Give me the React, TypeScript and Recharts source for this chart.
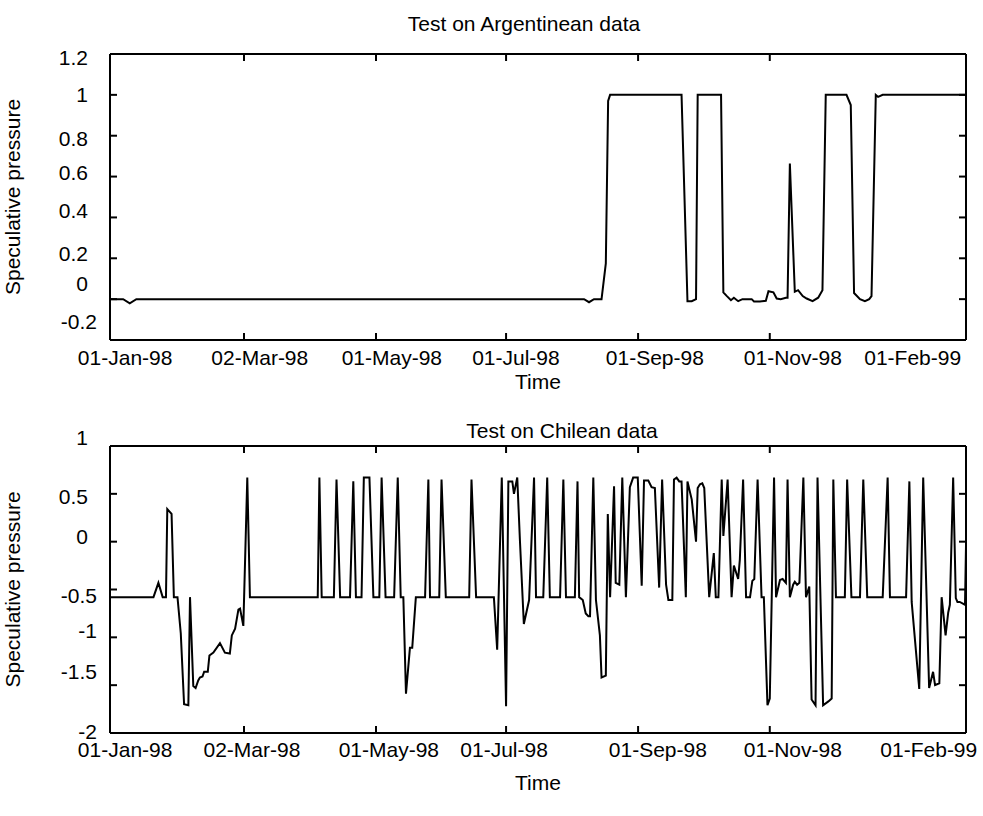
import React from 'react';
import { LineChart, Line, XAxis, YAxis } from 'recharts';

const FONT = '"Liberation Sans", Arial, Helvetica, sans-serif';

// ---- shared x axis (trading-day index) ----
const dayDomain = [0, 260];
const markDays = [0, 40.7, 80.8, 120.3, 160.4, 200.4];
const dateLabels = ['01-Jan-98', '02-Mar-98', '01-May-98', '01-Jul-98', '01-Sep-98', '01-Nov-98', '01-Feb-99'];
const argLabelDays = [4.6, 45.5, 85.6, 123.3, 165.5, 207.4, 243.8];
const chiLabelDays = [4.6, 43.1, 84.7, 119.7, 166.4, 207.4, 248.7];

// ---- Argentinean panel ----
const argDays = [
  0, 4, 6, 8, 144, 145.5, 147, 149.3, 150.6, 151.3, 151.9,
  173.6, 175.4, 176.7, 178.0, 178.5, 185.6, 186.3, 187.3, 188.6, 189.5, 190.8, 192.1,
  194.9, 195.6, 197.4, 199.2, 200.0, 201.5, 202.5, 203.7,
  205.3, 205.8, 206.5, 208.0, 209.0, 210.4, 211.6, 213.4, 215.1, 216.4, 217.4,
  223.7, 225.0, 226.0, 227.8, 229.3, 230.6, 231.3, 232.6, 233.3, 234.7, 260,
];
const argValues = [
  0, 0, -0.02, 0, 0, -0.015, 0, 0, 0.175, 0.97, 1,
  1, -0.01, -0.01, 0, 1, 1, 0.033, 0.016, -0.005, 0.007, -0.01, 0,
  0, -0.011, -0.011, -0.008, 0.039, 0.033, 0.003, 0,
  0.007, 0.007, 0.664, 0.036, 0.044, 0.015, 0.003, -0.01, 0.007, 0.044, 1,
  1, 0.95, 0.03, 0, -0.01, 0, 0.015, 1, 0.99, 1, 1,
];
const argDomain = [-0.2, 1.2];
const argTicks = [-0.2, 0, 0.2, 0.4, 0.6, 0.8, 1, 1.2];
const argTickText = ['-0.2', '0', '0.2', '0.4', '0.6', '0.8', '1', '1.2'];
const argTickLabelAt = [-0.112, 0.074, 0.221, 0.436, 0.622, 0.784, 1.0, 1.185];

// ---- Chilean panel ----
const chiDays = [
  0, 13.2, 14.7, 16.0, 17.0, 17.4, 18.7, 19.4, 20.5, 21.5, 22.5, 23.8, 24.3, 25.3, 26.0, 26.8,
  27.3, 28.1, 28.6, 29.7, 30.2, 31.4, 33.4, 34.9, 36.4, 37.0, 38.0, 39.0, 39.5, 40.5, 41.7, 42.5,
  63.1, 63.6, 64.3, 68.0, 68.8, 69.9, 72.9, 73.9, 74.7, 76.4, 77.1, 78.8, 80.0, 81.8, 82.5, 83.7,
  86.3, 87.4, 88.3, 89.1, 89.9, 91.1, 91.8, 92.9, 95.7, 96.7, 97.2, 100.0, 100.7, 102.0,
  109.1, 109.8, 111.2, 116.6, 117.6, 119.0, 120.3, 121.0, 122.2, 122.7, 123.7, 124.5, 125.7, 127.3,
  128.8, 129.4, 131.6, 132.8, 133.6, 136.7, 137.7, 138.5, 141.2, 142.0, 142.5, 143.6, 144.5, 145.3,
  145.8, 146.8, 147.6, 148.8, 149.3, 150.6, 151.2, 151.9, 153.1, 153.6, 154.7, 155.6, 156.7, 157.9,
  158.9, 160.3, 161.5, 162.2, 163.5, 164.5, 165.5, 166.8, 167.7, 168.9, 169.6, 170.8, 171.3, 172.1,
  172.9, 173.6, 174.9, 175.4, 176.7, 178.0, 178.5, 179.2, 179.9, 180.5, 182.0, 183.4, 184.0, 184.8,
  185.8, 186.3, 187.6, 188.8, 189.5, 190.8, 191.3, 192.3, 193.2, 194.4, 195.1, 195.7, 196.7, 197.9,
  198.6, 199.7, 200.4, 201.7, 202.3, 203.5, 204.3, 205.3, 205.8, 206.5, 207.5, 208.0, 208.7, 209.4,
  210.6, 211.4, 212.4, 213.1, 214.3, 214.9, 216.6, 218.2, 219.2, 219.7, 220.5, 223.2, 223.9, 225.2,
  227.8, 228.8, 230.0, 234.7, 236.2, 236.9, 241.8, 242.8, 243.5, 245.8, 247.0, 248.8, 250.0, 250.6,
  251.9, 252.6, 253.8, 254.6, 255.1, 256.1, 256.9, 257.4, 258.1, 259.2, 259.7, 260.0,
];
const chiValues = [
  -0.58, -0.58, -0.43, -0.58, -0.58, 0.34, 0.29, -0.58, -0.58, -0.96, -1.7, -1.71, -0.58, -1.51, -1.53, -1.45,
  -1.42, -1.41, -1.36, -1.36, -1.19, -1.16, -1.06, -1.16, -1.17, -0.98, -0.91, -0.71, -0.7, -0.88, 0.67, -0.58,
  -0.58, 0.67, -0.58, -0.58, 0.65, -0.58, -0.58, 0.63, -0.58, -0.58, 0.67, 0.67, -0.58, -0.58, 0.67, -0.58,
  -0.58, 0.67, -0.58, -0.58, -1.59, -1.11, -1.11, -0.58, -0.58, 0.65, -0.58, -0.58, 0.65, -0.58,
  -0.58, 0.65, -0.58, -0.58, -1.13, 0.67, -1.72, 0.63, 0.63, 0.5, 0.67, 0.02, -0.86, -0.61,
  0.67, -0.58, -0.58, 0.67, -0.58, -0.58, 0.65, -0.58, -0.58, 0.63, -0.58, -0.61, -0.75, -0.78,
  -0.78, 0.67, -0.61, -0.98, -1.42, -1.4, 0.29, -0.58, 0.58, -0.43, -0.45, 0.67, -0.58, 0.57,
  0.67, 0.67, -0.46, 0.64, 0.64, 0.57, 0.56, -0.48, 0.65, -0.45, -0.61, -0.61, 0.65, 0.67,
  0.63, 0.63, -0.58, 0.63, 0.44, 0.0, 0.56, 0.6, 0.61, 0.56, -0.58, -0.12, -0.58, -0.58,
  0.65, 0.06, 0.65, -0.58, -0.25, -0.39, -0.19, 0.65, -0.58, -0.58, -0.41, -0.39, 0.65, -0.58,
  -0.58, -1.71, -1.64, 0.67, -0.58, -0.4, -0.39, -0.43, 0.65, -0.58, -0.45, -0.42, -0.45, -0.43,
  0.67, -0.58, -0.47, -1.65, -1.71, 0.67, -1.71, -1.67, -1.64, 0.65, -0.58, -0.58, 0.65, -0.58,
  -0.58, 0.65, -0.58, -0.58, 0.67, -0.58, -0.58, 0.63, -0.63, -1.54, 0.67, -1.53, -1.36, -1.5,
  -1.48, -0.58, -0.98, -0.74, -0.66, 0.67, -0.59, -0.63, -0.63, -0.65, -0.66, -0.04,
];
const chiDomain = [-2, 1];
const chiTicks = [-2, -1.5, -1, -0.5, 0, 0.5, 1];
const chiTickText = ['-2', '-1.5', '-1', '-0.5', '0', '0.5', '1'];
const chiTickLabelAt = [-1.989, -1.362, -0.934, -0.568, 0.049, 0.467, 1.084];

const axisStroke = { stroke: '#000', strokeWidth: 2 };
const tickFont = { fontSize: 21, fill: '#000', fontFamily: FONT };

const NoLabel = () => <g />;

type PanelProps = {
  days: number[];
  values: number[];
  yDomain: number[];
  yTicks: number[];
  yLabelAt: number[];
  yLabelText: string[];
  labelDays: number[];
  height: number;
  marginTop: number;
  axisHeight: number;
  labelMargin: number;
  timeOffset: number;
};

function Panel(p: PanelProps) {
  const data = p.days.map((t, i) => ({ t, v: p.values[i] }));
  const YTick = (props: any) => {
    const { x, y, index } = props;
    const text = p.yLabelText[index] ?? '';
    const neg = text.startsWith('-');
    return (
      <text
        x={x + (neg ? 7 : -2)}
        y={y}
        dy="0.355em"
        textAnchor="end"
        fontSize={21}
        fontFamily={FONT}
        fill="#000"
      >
        {text}
      </text>
    );
  };
  return (
    <LineChart
      width={983}
      height={p.height}
      data={data}
      margin={{ top: p.marginTop, right: 17, bottom: 0, left: 0 }}
    >
      <XAxis
        xAxisId="marks"
        dataKey="t"
        type="number"
        domain={dayDomain}
        allowDataOverflow
        ticks={markDays}
        interval={0}
        tick={NoLabel}
        tickSize={7}
        mirror
        height={1}
        axisLine={axisStroke}
        tickLine={axisStroke}
      />
      <XAxis
        xAxisId="top"
        dataKey="t"
        orientation="top"
        type="number"
        domain={dayDomain}
        allowDataOverflow
        ticks={markDays}
        interval={0}
        tick={NoLabel}
        tickSize={7}
        mirror
        height={1}
        axisLine={axisStroke}
        tickLine={axisStroke}
      />
      <XAxis
        xAxisId="labels"
        dataKey="t"
        type="number"
        domain={dayDomain}
        allowDataOverflow
        ticks={p.labelDays}
        interval={0}
        tickFormatter={(_v: number, i: number) => dateLabels[i]}
        axisLine={false}
        tickLine={false}
        tickSize={0}
        tickMargin={p.labelMargin}
        height={p.axisHeight}
        tick={tickFont}
        label={{ value: 'Time', position: 'insideBottom', offset: p.timeOffset, style: { ...tickFont, textAnchor: 'middle' } }}
      />
      <YAxis
        yAxisId="marks"
        dataKey="v"
        type="number"
        domain={p.yDomain}
        allowDataOverflow
        ticks={p.yTicks}
        interval={0}
        tick={NoLabel}
        tickSize={7}
        mirror
        width={1}
        axisLine={axisStroke}
        tickLine={axisStroke}
      />
      <YAxis
        yAxisId="right"
        dataKey="v"
        orientation="right"
        type="number"
        domain={p.yDomain}
        allowDataOverflow
        ticks={p.yTicks}
        interval={0}
        tick={NoLabel}
        tickSize={7}
        mirror
        width={1}
        axisLine={axisStroke}
        tickLine={axisStroke}
      />
      <YAxis
        yAxisId="labels"
        dataKey="v"
        type="number"
        domain={p.yDomain}
        allowDataOverflow
        ticks={p.yLabelAt}
        interval={0}
        axisLine={false}
        tickLine={false}
        tickSize={0}
        tickMargin={20}
        width={110}
        tick={YTick}
        label={{
          value: 'Speculative pressure',
          angle: -90,
          position: 'insideLeft',
          offset: 13,
          style: { ...tickFont, textAnchor: 'middle' },
        }}
      />
      <Line
        xAxisId="marks"
        yAxisId="marks"
        type="linear"
        dataKey="v"
        stroke="#000"
        strokeWidth={2}
        dot={false}
        activeDot={false}
        isAnimationActive={false}
      />
    </LineChart>
  );
}

export default function App() {
  return (
    <div style={{ position: 'absolute', left: 0, top: 0, width: 983, height: 816, background: '#fff' }}>
      <div style={{ position: 'absolute', left: 0, top: 0 }}>
        <Panel
          days={argDays}
          values={argValues}
          yDomain={argDomain}
          yTicks={argTicks}
          yLabelAt={argTickLabelAt}
          yLabelText={argTickText}
          labelDays={argLabelDays}
          height={400}
          marginTop={54}
          axisHeight={60}
          labelMargin={10}
          timeOffset={11}
        />
      </div>
      <div style={{ position: 'absolute', left: 0, top: 400 }}>
        <Panel
          days={chiDays}
          values={chiValues}
          yDomain={chiDomain}
          yTicks={chiTicks}
          yLabelAt={chiTickLabelAt}
          yLabelText={chiTickText}
          labelDays={chiLabelDays}
          height={416}
          marginTop={46}
          axisHeight={83}
          labelMargin={9}
          timeOffset={26}
        />
      </div>
      <svg
        width={983}
        height={816}
        style={{ position: 'absolute', left: 0, top: 0, pointerEvents: 'none' }}
      >
        <text x={524} y={31} textAnchor="middle" fontSize={21} fontFamily={FONT} fill="#000">
          Test on Argentinean data
        </text>
        <text x={562} y={438} textAnchor="middle" fontSize={21} fontFamily={FONT} fill="#000">
          Test on Chilean data
        </text>
      </svg>
    </div>
  );
}
